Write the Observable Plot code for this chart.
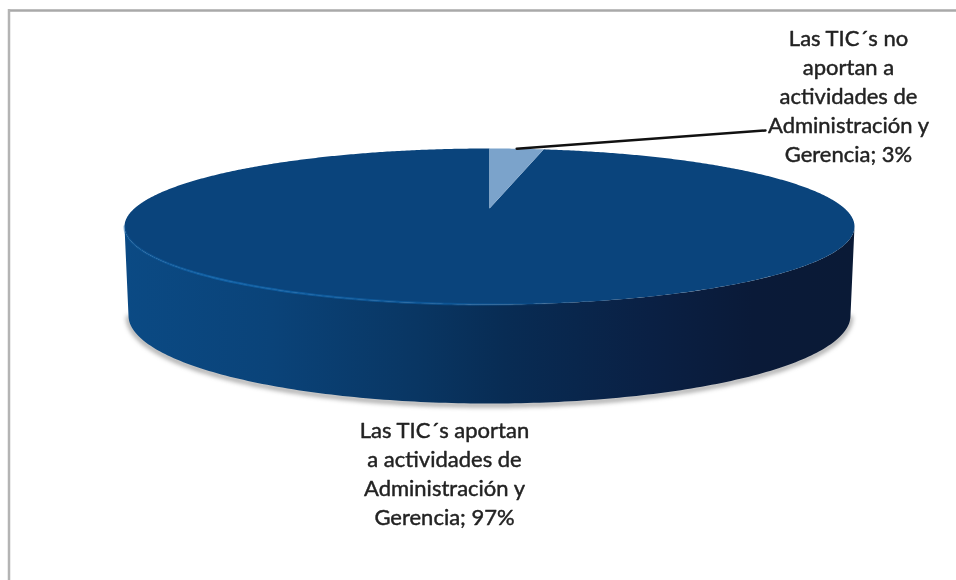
<!DOCTYPE html>
<html>
<head>
<meta charset="utf-8">
<script src="https://cdn.jsdelivr.net/npm/d3@7"></script>
<script src="https://cdn.jsdelivr.net/npm/@observablehq/plot@0.6"></script>
<style>
html,body{margin:0;padding:0;background:#fff}
svg{display:block}
g[aria-description="sombra"]{filter:blur(2.5px)}
g[aria-description="etiquetas"]{filter:blur(.5px)}
g[aria-description="suave"]{filter:blur(.6px)}
</style>
</head>
<body>
<div id="chart"></div>
<script>
// Data
const categories = ["Las TIC´s no aportan a actividades de Administración y Gerencia", "Las TIC´s aportan a actividades de Administración y Gerencia"];
const values = [3, 97];
const labels = [
  "Las TIC´s no\naportan a\nactividades de\nAdministración y\nGerencia; 3%",
  "Las TIC´s aportan\na actividades de\nAdministración y\nGerencia; 97%"
];
const sliceColors = ["#7ba3cb", "#0a447c"];
const labelX = [848, 444];
const labelY = [94, 472];

// Layout of the tilted disc
const W = 956, H = 580;
const cx = 489, cy = 226, rx = 365, ry = 78, tilt = 0.23;
const bx = 489, by = 315, brx = 361, bry = 88;

// Perspective: equal angles around the disc's centre land on the tilted ellipse
function project(a) {
  const u = Math.sin(a), v = Math.cos(a), d = 1 + tilt * v;
  return {
    x: cx + rx * Math.sqrt(1 - tilt * tilt) * u / d,
    y: cy - ry * (v + tilt) / d
  };
}
const centre = {x: cx, y: cy - ry * tilt};
const step = Math.PI / 360;

const arcs = d3.pie().sort(null)(values);
const slices = arcs.flatMap((s, i) => {
  const n = Math.max(2, Math.ceil((s.endAngle - s.startAngle) / step));
  const pts = d3.range(n + 1).map(k => project(s.startAngle + (s.endAngle - s.startAngle) * k / n));
  return [centre, ...pts].map(p => ({...p, cat: categories[i]}));
});

// Side wall: front half of the top rim, back along the bottom rim
const frontTop = d3.range(0, 181).map(t => {
  const a = t / 180 * Math.PI;
  return {x: cx + rx * Math.cos(a), y: cy + ry * Math.sin(a)};
});
const frontBottom = d3.range(0, 181).map(t => {
  const a = t / 180 * Math.PI;
  return {x: bx + brx * Math.cos(a), y: by + bry * Math.sin(a)};
});
const wall = [...frontTop, ...frontBottom.slice().reverse()];
const shadow = frontBottom.map(p => ({x: p.x, y: p.y + 1.5}));

// Leader from the middle of the small slice
const small = arcs[0];
const leaderStart = project((small.startAngle + small.endAngle) / 2);
const leader = [leaderStart, {x: 765, y: 130}];

const gradients = () => {
  const defs = d3.create("svg:defs");
  const add = (id, stops) => {
    const g = defs.append("linearGradient").attr("id", id).attr("x1", 0).attr("x2", 1).attr("y1", 0).attr("y2", 0);
    stops.forEach(([o, c, op]) => g.append("stop").attr("offset", o).attr("stop-color", c).attr("stop-opacity", op ?? 1));
  };
  add("pared", [[0, "#0b4a84"], [0.2, "#0a4379"], [0.4, "#093663"], [0.52, "#082c54"], [0.72, "#0a2044"], [0.86, "#0a1a38"], [1, "#0a1a36"]]);
  add("brillo", [[0, "#1266ad", 0.3], [0.12, "#1266ad", 0.8], [0.45, "#1266ad", 0.5], [0.62, "#1266ad", 0]]);
  return defs.node();
};

const chart = Plot.plot({
  width: W,
  height: H,
  margin: 0,
  x: {domain: [0, W], range: [0, W], axis: null},
  y: {domain: [0, H], range: [0, H], axis: null},
  color: {domain: categories, range: sliceColors},
  marks: [
    gradients,
    Plot.ruleY([10], {x1: 8, x2: W, stroke: "#a9a9a9", strokeWidth: 2.5, ariaDescription: "suave"}),
    Plot.ruleX([8.5], {y1: 9, y2: H, stroke: "#b4b4b4", strokeWidth: 2.5, ariaDescription: "suave"}),
    Plot.line(shadow, {x: "x", y: "y", stroke: "#3a3a3a", strokeWidth: 3, strokeOpacity: 0.7, ariaDescription: "sombra"}),
    Plot.line(wall, {x: "x", y: "y", fill: "url(#pared)", stroke: "none", ariaDescription: "suave"}),
    Plot.line(slices.filter(d => d.cat === categories[1]), {x: "x", y: "y", fill: "cat", stroke: "none", ariaDescription: "suave"}),
    Plot.line(slices.filter(d => d.cat === categories[0]), {x: "x", y: "y", fill: "cat", stroke: "none", ariaDescription: "suave"}),
    Plot.line(frontTop, {x: "x", y: "y", stroke: "url(#brillo)", strokeWidth: 2.5, ariaDescription: "suave"}),
    Plot.line(leader, {x: "x", y: "y", stroke: "#111", strokeWidth: 2.5}),
    Plot.text(labels, {
      x: (d, i) => labelX[i],
      y: (d, i) => labelY[i],
      text: d => d,
      fontFamily: "Lato",
      fontSize: 22,
      lineHeight: 1.32,
      fill: "#222",
      stroke: "#222",
      strokeWidth: 0.45,
      textAnchor: "middle",
      ariaDescription: "etiquetas"
    })
  ]
});
document.getElementById("chart").append(chart);
</script>
</body>
</html>
